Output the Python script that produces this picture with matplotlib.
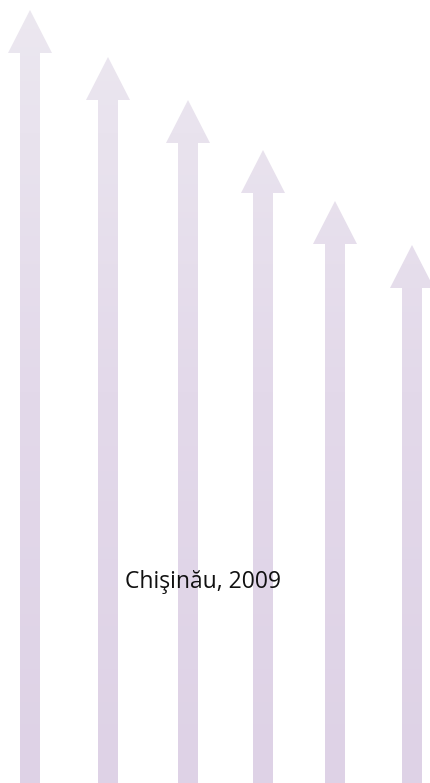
import matplotlib
matplotlib.use("Agg")
import matplotlib.pyplot as plt
import numpy as np
from matplotlib.patches import Polygon
from matplotlib.colors import LinearSegmentedColormap

# Data: arrow centres and tip heights (in image pixel units, measured from bottom)
arrow_x = [30, 108, 188, 263, 335, 412]
arrow_tip = [773, 726, 683, 633, 582, 538]
caption = "Chişinău, 2009"

W, H = 431, 783
fig = plt.figure(figsize=(W / 100, H / 100), dpi=100)
ax = fig.add_axes([0, 0, 1, 1])
ax.set_xlim(0, W)
ax.set_ylim(0, H)
ax.axis("off")

shaft_half = 10
head_half = 22
head_len = 43

cmap = LinearSegmentedColormap.from_list("arr", ["#ded2e6", "#e3d9ea", "#ece8f0"])
grad = np.linspace(0, 1, 256).reshape(-1, 1)

for cx, tip in zip(arrow_x, arrow_tip):
    base = tip - head_len
    pts = [
        (cx - shaft_half, 0), (cx - shaft_half, base), (cx - head_half, base),
        (cx, tip), (cx + head_half, base), (cx + shaft_half, base),
        (cx + shaft_half, 0),
    ]
    poly = Polygon(pts, closed=True, facecolor="none", edgecolor="none")
    ax.add_patch(poly)
    im = ax.imshow(grad, cmap=cmap, origin="lower", aspect="auto",
                   extent=[cx - head_half, cx + head_half, 0, H], zorder=1,
                   interpolation="bilinear")
    im.set_clip_path(poly)

ax.set_xlim(0, W)
ax.set_ylim(0, H)

ax.text(203, H - 582, caption, ha="center", va="center", fontsize=16.5,
        family=["Open Sans", "DejaVu Sans"], color="#111111", zorder=3)

fig.savefig("out.png", dpi=100, facecolor="white")
